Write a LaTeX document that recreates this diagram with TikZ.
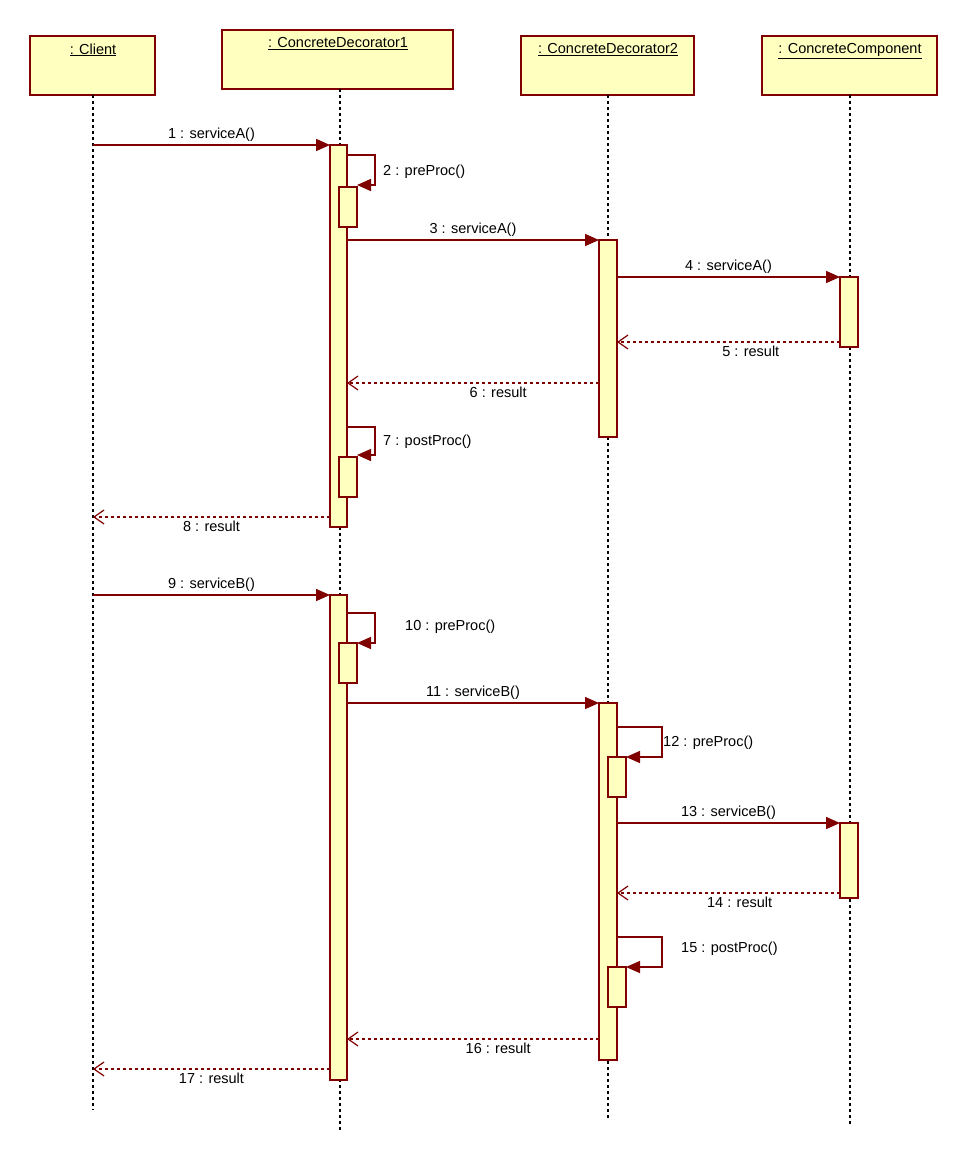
\documentclass[tikz,border=0pt]{standalone}
\usepackage{fontspec}
\setmainfont{Liberation Sans}
\usetikzlibrary{arrows.meta}
\definecolor{umlred}{HTML}{800000}
\definecolor{umlfill}{HTML}{FFFFC0}
\begin{document}
\begin{tikzpicture}[x=1pt,y=-1pt,font=\fontsize{14.5}{17}\selectfont,
  obj/.style={draw=umlred,fill=umlfill,line width=1.6pt},
  act/.style={draw=umlred,fill=umlfill,line width=1.6pt},
  life/.style={dash pattern=on 3pt off 3pt,line width=1.4pt},
  call/.style={umlred,line width=1.5pt,-{Triangle[length=14pt,width=12pt]}},
  ret/.style={umlred,line width=1.2pt,dashed,-{Straight Barb[length=10pt,width=14pt]}},
  lbl/.style={text=black,inner sep=3pt}]
\useasboundingbox (0,0) rectangle (969,1163);
% objects
\draw[obj] (30,36) rectangle (155,95); \node[anchor=north] (hc) at (93,40) {\underline{: Client}};
\draw[obj] (222,30) rectangle (453,89); \node[anchor=north] (h1) at (338,34) {\underline{: ConcreteDecorator1}};
\draw[obj] (521,36) rectangle (694,95); \node[anchor=north] (h2) at (608,40) {\underline{: ConcreteDecorator2}};
\draw[obj] (762,36) rectangle (937,95); \node[anchor=north] (h3) at (850,40) {\underline{: ConcreteComponent}};
% lifelines
\draw[life] (93,95) -- (93,1110);
\draw[life] (340,89) -- (340,1130);
\draw[life] (608,95) -- (608,1120);
\draw[life] (850,95) -- (850,1125);
% activations
\draw[act] (330,145) rectangle (347,527);
\draw[act] (339,187) rectangle (357,227);
\draw[act] (339,457) rectangle (357,497);
\draw[act] (599,240) rectangle (617,437);
\draw[act] (840,277) rectangle (858,347);
\draw[act] (330,595) rectangle (347,1080);
\draw[act] (339,643) rectangle (357,683);
\draw[act] (599,703) rectangle (617,1060);
\draw[act] (608,757) rectangle (626,797);
\draw[act] (608,967) rectangle (626,1007);
\draw[act] (840,823) rectangle (858,898);
% messages
\draw[call] (93,145) -- node[lbl,above] {1 : serviceA()} (330,145);
\draw[call] (347,155) -- (375,155) -- (375,185) -- (357,185);
\node[lbl,anchor=west] (m2) at (380,172) {2 : preProc()};
\draw[call] (347,240) -- node[lbl,above] {3 : serviceA()} (599,240);
\draw[call] (617,277) -- node[lbl,above] {4 : serviceA()} (840,277);
\draw[ret] (840,342) -- node[lbl,below,pos=0.4] {5 : result} (617,342);
\draw[ret] (599,383) -- node[lbl,below,pos=0.4] {6 : result} (347,383);
\draw[call] (347,427) -- (375,427) -- (375,455) -- (357,455);
\node[lbl,anchor=west] (m7) at (380,442) {7 : postProc()};
\draw[ret] (330,517) -- node[lbl,below,pos=0.5] {8 : result} (93,517);
\draw[call] (93,595) -- node[lbl,above] {9 : serviceB()} (330,595);
\draw[call] (347,613) -- (375,613) -- (375,643) -- (357,643);
\node[lbl,anchor=west] (m10) at (402,627) {10 : preProc()};
\draw[call] (347,703) -- node[lbl,above] {11 : serviceB()} (599,703);
\draw[call] (617,727) -- (662,727) -- (662,757) -- (626,757);
\node[lbl,anchor=west] (m12) at (660,743) {12 : preProc()};
\draw[call] (617,823) -- node[lbl,above] {13 : serviceB()} (840,823);
\draw[ret] (840,893) -- node[lbl,below,pos=0.45] {14 : result} (617,893);
\draw[call] (617,937) -- (662,937) -- (662,967) -- (626,967);
\node[lbl,anchor=west] (m15) at (678,949) {15 : postProc()};
\draw[ret] (599,1039) -- node[lbl,below,pos=0.4] {16 : result} (347,1039);
\draw[ret] (330,1069) -- node[lbl,below,pos=0.5] {17 : result} (93,1069);
\end{tikzpicture}
\end{document}
